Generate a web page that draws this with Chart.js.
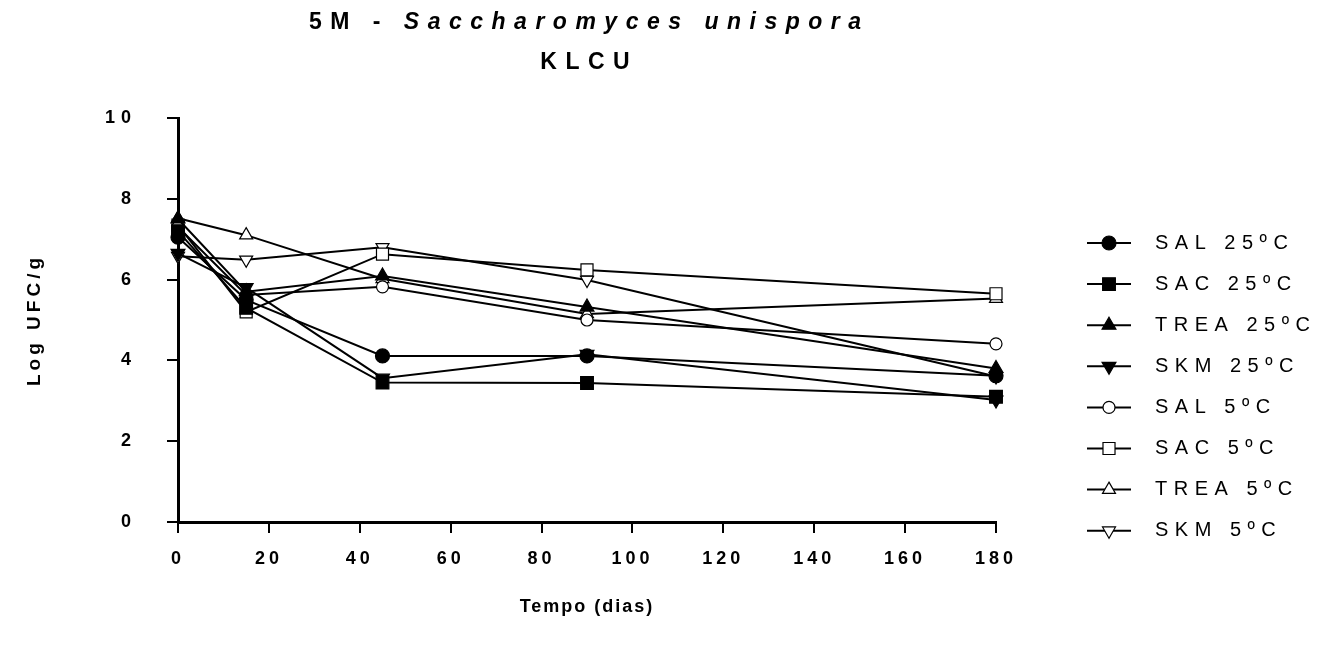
<!DOCTYPE html>
<html><head><meta charset="utf-8">
<script src="https://cdn.jsdelivr.net/npm/chart.js@4.4.0/dist/chart.umd.min.js"></script>
<style>html,body{margin:0;padding:0;background:#fff;}#wrap{width:1318px;height:650px;}</style>
</head><body><div id="wrap"><canvas id="c" width="1318" height="650"></canvas></div>
<script>
// ---- data ----
const days = [0, 15, 45, 90, 180];
const seriesNames = ['SAL 25ºC', 'SAC 25ºC', 'TREA 25ºC', 'SKM 25ºC', 'SAL 5ºC', 'SAC 5ºC', 'TREA 5ºC', 'SKM 5ºC'];
const sal25  = [7.05, 5.50, 4.11, 4.11, 3.62];
const sac25  = [7.20, 5.30, 3.45, 3.44, 3.10];
const trea25 = [7.50, 5.70, 6.09, 5.32, 3.80];
const skm25  = [6.65, 5.80, 3.56, 4.15, 3.02];
const sal5   = [7.30, 5.62, 5.82, 5.00, 4.41];
const sac5   = [7.35, 5.20, 6.63, 6.24, 5.65];
const trea5  = [7.52, 7.10, 6.02, 5.15, 5.53];
const skm5   = [6.58, 6.49, 6.80, 5.99, 3.60];
const xTickValues = [0, 20, 40, 60, 80, 100, 120, 140, 160, 180];
const yTickValues = [0, 2, 4, 6, 8, 10];
const titleLine1a = '5M - ';
const titleLine1b = 'Saccharomyces unispora';
const titleLine2 = 'KLCU';
const xTitle = 'Tempo (dias)';
const yTitle = 'Log UFC/g';

const FONT = '"Liberation Sans", Arial, sans-serif';
const seriesValues = [sal25, sac25, trea25, skm25, sal5, sac5, trea5, skm5];
const markers = [
  {style: 'circle',   rot: 0,   r: 7,   fill: '#000'},
  {style: 'rect',     rot: 0,   r: 9,   fill: '#000'},
  {style: 'triangle', rot: 0,   r: 8,   fill: '#000'},
  {style: 'triangle', rot: 180, r: 8,   fill: '#000'},
  {style: 'circle',   rot: 0,   r: 6,   fill: '#fff'},
  {style: 'rect',     rot: 0,   r: 8.5, fill: '#fff'},
  {style: 'triangle', rot: 0,   r: 7.5, fill: '#fff'},
  {style: 'triangle', rot: 180, r: 7.5, fill: '#fff'}
];

const datasets = seriesNames.map((name, i) => ({
  label: name,
  data: days.map((d, j) => ({x: d, y: seriesValues[i][j]})),
  borderColor: '#000',
  borderWidth: 2,
  backgroundColor: markers[i].fill,
  pointStyle: markers[i].style,
  pointRotation: markers[i].rot,
  pointRadius: markers[i].r,
  pointBackgroundColor: markers[i].fill,
  pointBorderColor: '#000',
  pointBorderWidth: 1.2,
  tension: 0,
  fill: false,
  clip: false
}));

const spacingPlugin = {
  id: 'spacing',
  afterLayout(chart) {
    Object.values(chart.scales).forEach(sc => {
      if (sc._wrapped) return;
      sc._wrapped = true;
      const dl = sc.drawLabels.bind(sc), dt = sc.drawTitle.bind(sc);
      const ls = sc.axis === 'x' ? '2px' : '4px';
      const tl = sc.axis === 'x' ? '4px' : '6px';
      sc.drawLabels = function(a) { const c = this.ctx; c.save(); c.letterSpacing = tl; dl(a); c.restore(); };
      sc.drawTitle = function() { const c = this.ctx; c.save(); c.letterSpacing = ls; dt(); c.restore(); };
    });
  }
};

function drawMarker(ctx, m, x, y) {
  ctx.save();
  ctx.fillStyle = m.fill; ctx.strokeStyle = '#000'; ctx.lineWidth = 1.2;
  if (Chart.helpers && Chart.helpers.drawPoint) {
    Chart.helpers.drawPoint(ctx, {pointStyle: m.style, rotation: m.rot, radius: m.r, borderWidth: 1.2}, x, y);
  }
  ctx.restore();
}

const decorPlugin = {
  id: 'decor',
  afterDraw(chart) {
    const ctx = chart.ctx;
    ctx.save();
    ctx.fillStyle = '#000';
    ctx.textBaseline = 'middle';
    // title
    const cx = 585, sp = 8.5;
    ctx.letterSpacing = sp + 'px';
    ctx.font = 'bold 23px ' + FONT;
    const w1 = ctx.measureText(titleLine1a).width;
    ctx.font = 'italic bold 23px ' + FONT;
    const w2 = ctx.measureText(titleLine1b).width;
    let x0 = cx - (w1 + w2 - sp) / 2;
    ctx.textAlign = 'left';
    ctx.font = 'bold 23px ' + FONT;
    ctx.fillText(titleLine1a, x0, 23);
    ctx.font = 'italic bold 23px ' + FONT;
    ctx.fillText(titleLine1b, x0 + w1, 23);
    ctx.font = 'bold 23px ' + FONT;
    const w3 = ctx.measureText(titleLine2).width;
    ctx.fillText(titleLine2, cx - (w3 - sp) / 2, 63);
    // legend
    ctx.letterSpacing = '6.5px';
    ctx.font = '20px ' + FONT;
    chart.data.datasets.forEach((ds, i) => {
      const y = 243 + i * 41.1;
      ctx.strokeStyle = '#000'; ctx.lineWidth = 2;
      ctx.beginPath(); ctx.moveTo(1087, y); ctx.lineTo(1131, y); ctx.stroke();
      drawMarker(ctx, markers[i], 1109, y);
      ctx.fillStyle = '#000';
      ctx.fillText(ds.label, 1155, y);
    });
    ctx.restore();
  }
};

new Chart(document.getElementById('c'), {
  type: 'line',
  data: {datasets},
  plugins: [spacingPlugin, decorPlugin],
  options: {
    responsive: false,
    animation: false,
    devicePixelRatio: 1,
    layout: {padding: {top: 118, right: 322, left: 0, bottom: 0}},
    plugins: {legend: {display: false}, tooltip: {enabled: false}, title: {display: false}},
    scales: {
      x: {
        type: 'linear', min: 0, max: 180,
        afterBuildTicks: s => { s.ticks = xTickValues.map(v => ({value: v})); },
        afterFit: s => { s.height = 128; },
        ticks: {color: '#000', padding: 15, maxRotation: 0, font: {family: FONT, size: 18, weight: 'bold'}},
        grid: {drawOnChartArea: false, drawTicks: true, tickLength: 11, color: '#000', lineWidth: 2},
        border: {display: true, color: '#000', width: 3},
        title: {display: true, text: xTitle, color: '#000', font: {family: FONT, size: 18, weight: 'bold'}, padding: {top: 0, bottom: 32}}
      },
      y: {
        min: 0, max: 10,
        afterBuildTicks: s => { s.ticks = yTickValues.map(v => ({value: v})); },
        afterFit: s => { s.width = 178; },
        ticks: {color: '#000', padding: 30, font: {family: FONT, size: 18, weight: 'bold'}},
        grid: {drawOnChartArea: false, drawTicks: true, tickLength: 11, color: '#000', lineWidth: 2},
        border: {display: true, color: '#000', width: 3},
        title: {display: true, text: yTitle, color: '#000', font: {family: FONT, size: 19, weight: 'bold'}, padding: {top: 23, bottom: 0}}
      }
    }
  }
});
</script></body></html>
